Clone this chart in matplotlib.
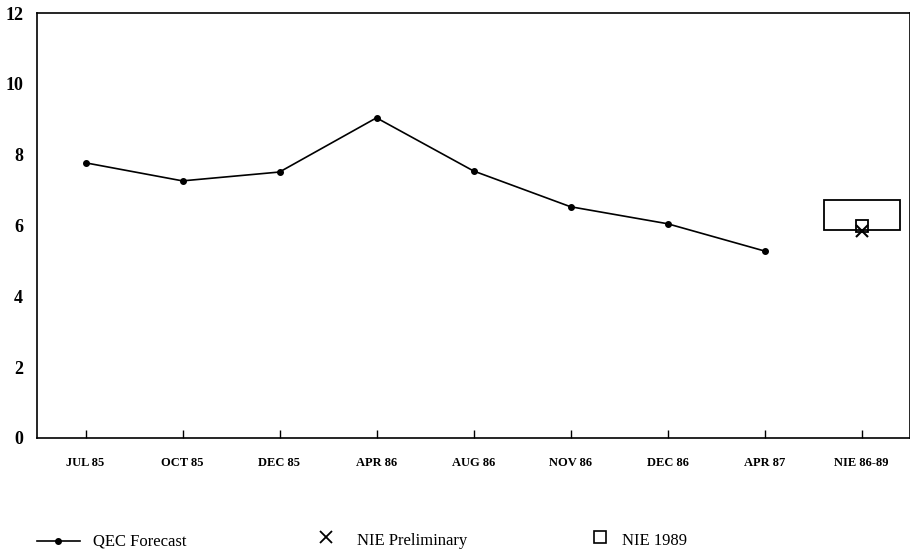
import matplotlib
matplotlib.use("Agg")
import matplotlib.pyplot as plt
from matplotlib.lines import Line2D
from matplotlib.patches import Rectangle

categories = ["JUL 85", "OCT 85", "DEC 85", "APR 86", "AUG 86", "NOV 86", "DEC 86", "APR 87", "NIE 86-89"]
qec_forecast = [7.77, 7.26, 7.51, 9.04, 7.54, 6.53, 6.05, 5.28]
nie_preliminary = 5.85
nie_1989 = 6.0
nie_range = (5.88, 6.72)

plt.rcParams['font.family'] = ['Liberation Serif', 'DejaVu Serif']

fig = plt.figure(figsize=(9.1, 5.55), dpi=100)
ax = fig.add_axes([37/910, 117/555, 873/910, 425/555])

x = list(range(len(categories)))
ax.plot(x[:len(qec_forecast)], qec_forecast, color='black', lw=1.2, marker='o', ms=4)
nx = len(categories) - 1
ax.add_patch(Rectangle((nx - 0.39, nie_range[0]), 0.79, nie_range[1] - nie_range[0],
                       fill=False, edgecolor='black', lw=1.3))
ax.plot([nx], [nie_1989], marker='s', ms=8, mfc='none', mec='black', mew=1.3, ls='none')
ax.plot([nx], [nie_preliminary], marker='x', ms=8, color='black', mew=1.5, ls='none')

ax.set_xlim(-0.5, 8.5)
ax.set_ylim(0, 12)
ax.set_yticks(range(0, 13, 2))
ax.set_xticks(x)
ax.set_xticklabels(categories, fontsize=9, fontweight='bold')
for lab in ax.get_yticklabels():
    lab.set_fontsize(13)
    lab.set_fontweight('bold')
ax.tick_params(axis='x', direction='in', length=6, width=1, pad=14)
ax.tick_params(axis='y', length=0, pad=10)
for s in ax.spines.values():
    s.set_linewidth(1.2)

# legend
fy = 1 - 541/555
fig.add_artist(Line2D([37/910, 80/910], [fy, fy], color='black', lw=1.2,
                      transform=fig.transFigure))
fig.add_artist(Line2D([58/910], [fy], color='black', marker='o', ms=4,
                      transform=fig.transFigure))
fig.text(93/910, fy, "QEC Forecast", fontsize=12, va='center', ha='left')
fig.add_artist(Line2D([326/910], [1 - 537/555], color='black', marker='x', ms=8, mew=1.3,
                      transform=fig.transFigure))
fig.text(357/910, fy, "NIE Preliminary", fontsize=12, va='center', ha='left')
fig.add_artist(Line2D([600/910], [1 - 537/555], color='black', marker='s', ms=8, mfc='none',
                      mew=1.2, transform=fig.transFigure))
fig.text(622/910, fy, "NIE 1989", fontsize=12, va='center', ha='left')

fig.savefig("out.png", dpi=100)
